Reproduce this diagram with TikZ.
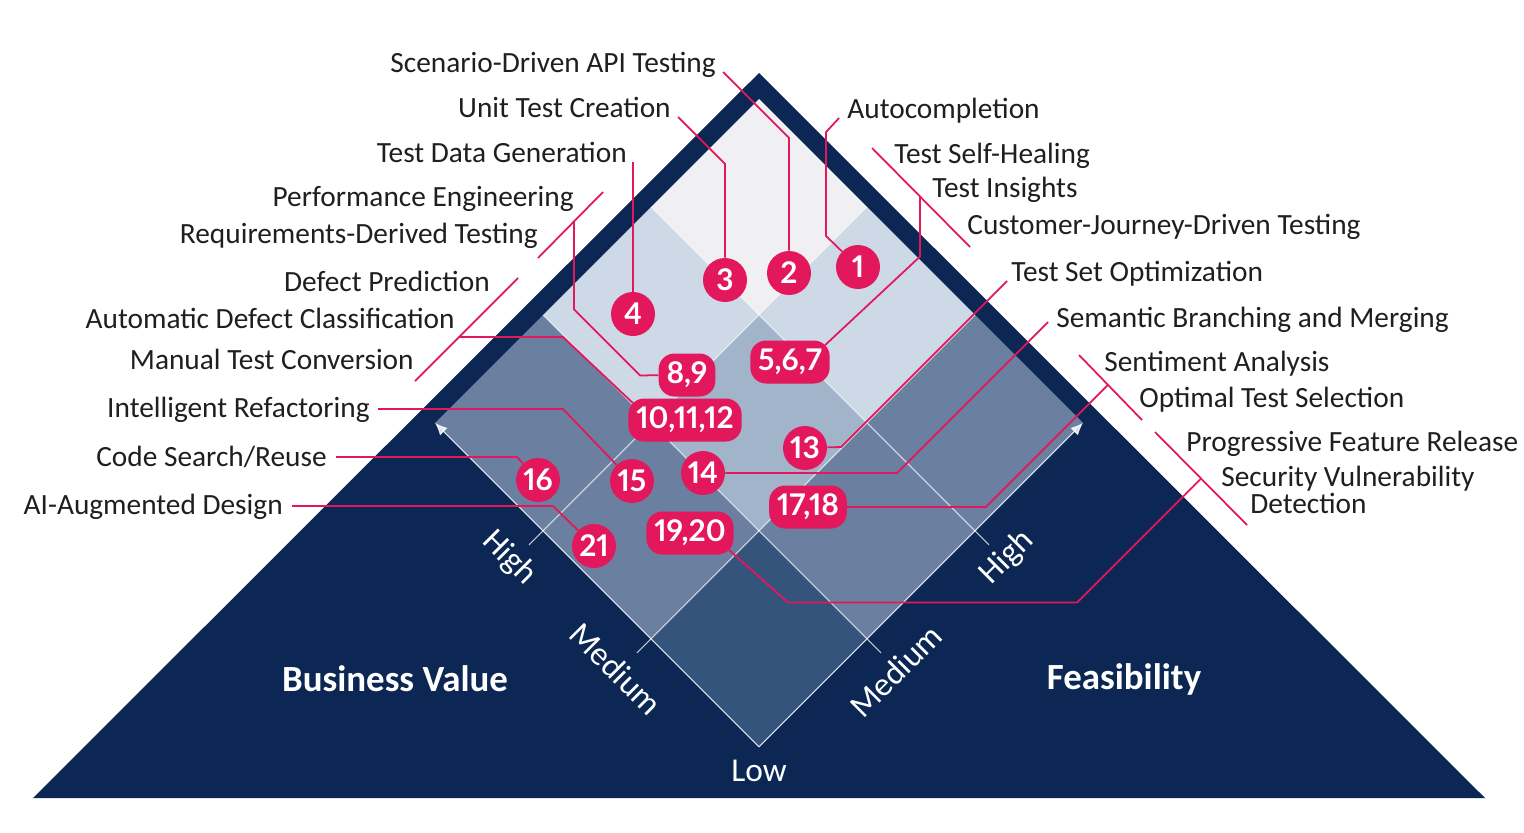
\documentclass[tikz,border=0pt]{standalone}
\usepackage{fontspec}
\setmainfont{Carlito}
\newfontfamily\badgefont{Lato}[Numbers=Proportional]
\usetikzlibrary{arrows.meta,calc}

\definecolor{navy}{HTML}{0C2753}
\definecolor{crimson}{HTML}{E3175B}
\definecolor{cellTop}{HTML}{F0F0F2}
\definecolor{cellLight}{HTML}{CDD9E6}
\definecolor{cellMid}{HTML}{A2B4CA}
\definecolor{cellSlate}{HTML}{6B7FA0}
\definecolor{cellDark}{HTML}{34547B}

\tikzset{
  lbl/.style={inner sep=0pt, text=black!88, font=\fontsize{16.7}{20}\selectfont},
  badge/.style={circle, fill=crimson, text=white, inner sep=0pt, minimum size=0.88cm,
    font=\badgefont\bfseries\fontsize{17}{20}\selectfont},
  pill/.style={rectangle, rounded corners=9pt, fill=crimson, text=white, inner xsep=4.5pt,
    inner ysep=0pt, minimum height=0.86cm, font=\badgefont\bfseries\fontsize{17}{20}\selectfont},
  leader/.style={draw=crimson, line width=1pt},
  gridline/.style={draw=white, opacity=0.75, line width=0.6pt},
  axislbl/.style={text=white, font=\fontsize{19}{22}\selectfont},
  axisname/.style={text=white, font=\bfseries\fontsize{21}{24}\selectfont},
}

\begin{document}
\begin{tikzpicture}[x=0.02cm, y=-0.02cm]
\path[use as bounding box, fill=white] (0,0) rectangle (1524,832);

% Pyramid
\fill[navy] (33,798) -- (759,73) -- (1485,798) -- cycle;

% Cells of the matrix (x along feasibility, y along business value)
\begin{scope}[shift={(759,99)}, x={(2.16cm,-2.16cm)}, y={(-2.16cm,-2.16cm)}]
  \foreach \u/\v/\c in {0/0/cellTop, 1/0/cellLight, 0/1/cellLight, 1/1/cellMid,
      2/0/cellSlate, 0/2/cellSlate, 2/1/cellSlate, 1/2/cellSlate, 2/2/cellDark}
    \fill[\c] (\v,\u) -- ++(1,0) -- ++(0,1) -- ++(-1,0) -- cycle;
  \foreach \k in {1,2} {
    \draw[gridline] (\k,0) -- (\k,3.13);
    \draw[gridline] (0,\k) -- (3.13,\k);
  }
  \coordinate (low) at (3,3);
  \coordinate (bvTip) at (0,3);
  \coordinate (feTip) at (3,0);
\end{scope}
\draw[white, opacity=0.85, line width=0.6pt, -{Latex[length=7pt,width=6pt]}] (low) -- (bvTip);
\draw[white, opacity=0.85, line width=0.6pt, -{Latex[length=7pt,width=6pt]}] (low) -- (feTip);

% Axis labels
\node[axislbl, rotate=-45] (bvHigh) at (509,558) {High};
\node[axislbl, rotate=-45] (bvMed) at (616,669) {Medium};
\node[axislbl, rotate=45] (feHigh) at (1007,558) {High};
\node[axislbl, rotate=45] (feMed) at (896,671) {Medium};
\node[axislbl] (lowLbl) at (759,771) {Low};
\node[axisname] (bv) at (395,679) {Business Value};
\node[axisname] (fe) at (1124,679) {Feasibility};

% Badges
\node[badge] (b1) at (858,267) {1};
\node[badge] (b2) at (789,273) {2};
\node[badge] (b3) at (725,280) {3};
\node[badge] (b4) at (633,314) {4};
\node[pill] (b567) at (790,362) {5,6,7};
\node[pill] (b89) at (687,375) {8,9};
\node[pill] (b101112) at (685,420) {10,11,12};
\node[badge] (b13) at (805,448) {13};
\node[badge] (b14) at (703,473) {14};
\node[badge] (b15) at (632,481) {15};
\node[badge] (b16) at (538,480) {16};
\node[pill] (b1718) at (808,507) {17,18};
\node[pill] (b1920) at (690,533) {19,20};
\node[badge] (b21) at (594,546) {21};

% Labels on the left
\node[lbl, anchor=base east] (lblScen) at (716,72) {Scenario-Driven API Testing};
\node[lbl, anchor=base east] (lblUnit) at (671,117) {Unit Test Creation};
\node[lbl, anchor=base east] (lblData) at (627,162) {Test Data Generation};
\node[lbl, anchor=base east] (lblPerf) at (574,206) {Performance Engineering};
\node[lbl, anchor=base east] (lblReq) at (538,243) {Requirements-Derived Testing};
\node[lbl, anchor=base east] (lblDefPred) at (490,291) {Defect Prediction};
\node[lbl, anchor=base east] (lblAutoDef) at (455,328) {Automatic Defect Classification};
\node[lbl, anchor=base east] (lblManual) at (414,369) {Manual Test Conversion};
\node[lbl, anchor=base east] (lblIntel) at (370,417) {Intelligent Refactoring};
\node[lbl, anchor=base east] (lblCode) at (327,466) {Code Search/Reuse};
\node[lbl, anchor=base east] (lblAI) at (283,514) {AI-Augmented Design};

% Labels on the right
\node[lbl, anchor=base west] (lblAuto) at (847,118) {Autocompletion};
\node[lbl, anchor=base west] (lblHeal) at (894,163) {Test Self-Healing};
\node[lbl, anchor=base west] (lblInsight) at (932,197) {Test Insights};
\node[lbl, anchor=base west] (lblJourney) at (967,234) {Customer-Journey-Driven Testing};
\node[lbl, anchor=base west] (lblTSO) at (1011,281) {Test Set Optimization};
\node[lbl, anchor=base west] (lblSem) at (1056,327) {Semantic Branching and Merging};
\node[lbl, anchor=base west] (lblSenti) at (1104,371) {Sentiment Analysis};
\node[lbl, anchor=base west] (lblOptimal) at (1139,407) {Optimal Test Selection};
\node[lbl, anchor=base west] (lblProg) at (1186,451) {Progressive Feature Release};
\node[lbl, anchor=west, align=left, font=\fontsize{16.7}{13.9}\selectfont] (lblSec) at (1221,490)
  {Security Vulnerability\\\hspace*{0.58cm}Detection};

% Brackets for grouped labels
\coordinate (brA1) at (603,192); \coordinate (brA2) at (538,258);
\coordinate (brB1) at (518,278); \coordinate (brB2) at (415,381);
\coordinate (brC1) at (872,148); \coordinate (brC2) at (970,247);
\coordinate (brD1) at (1079,355); \coordinate (brD2) at (1142,420);
\coordinate (brE1) at (1155,432); \coordinate (brE2) at (1247,525);
\draw[leader] (brA1) -- (brA2);
\draw[leader] (brB1) -- (brB2);
\draw[leader] (brC1) -- (brC2);
\draw[leader] (brD1) -- (brD2);
\draw[leader] (brE1) -- (brE2);
\coordinate (jA) at ($(brA1)!0.446!(brA2)$);
\coordinate (jB) at ($(brB1)!0.573!(brB2)$);
\coordinate (jC) at ($(brC1)!0.49!(brC2)$);
\coordinate (jD) at ($(brD1)!0.46!(brD2)$);
\coordinate (jE) at ($(brE1)!0.5!(brE2)$);

% Leader lines
\draw[leader] ([xshift=-4.5pt]lblAuto.base west) -- ++(-13,14) -- ++(0,104) -- (b1);
\draw[leader] ([xshift=4pt]lblScen.base east) -- ++(66,66) -- (b2);
\draw[leader] ([xshift=4pt]lblUnit.base east) -- ++(47,47) -- (b3);
\draw[leader] (lblData.base east -| b4) -- (b4);
\draw[leader] (jA) -- ++(0,88) -- ++(66,66) -- (b89);
\draw[leader] (jB) -- ++(104,0) -- ([shift={(5,5)}]b101112.north west);
\draw[leader] (jC) -- ++(0,60) -- ([shift={(-5,5)}]b567.north east);
\draw[leader] ([shift={(-4,0)}]lblTSO.base west) -- ++(-166,166) -- (b13);
\draw[leader] ([shift={(-8,-5)}]lblSem.base west) -- ++(-151,151) -- (b14);
\draw[leader] ([shift={(8,-8)}]lblIntel.base east) -- ++(185,0) -- (b15);
\draw[leader] ([shift={(9,-9)}]lblCode.base east) -- ++(181,0) -- (b16);
\draw[leader] (jD) -- ++(-122,122) -- (b1718);
\draw[leader] (jE) -- ++(-124,124) -- ++(-289,0) -- ([shift={(-5,-5)}]b1920.south east);
\draw[leader] ([shift={(9,-8)}]lblAI.base east) -- ++(261,0) -- (b21);
\end{tikzpicture}
\end{document}
